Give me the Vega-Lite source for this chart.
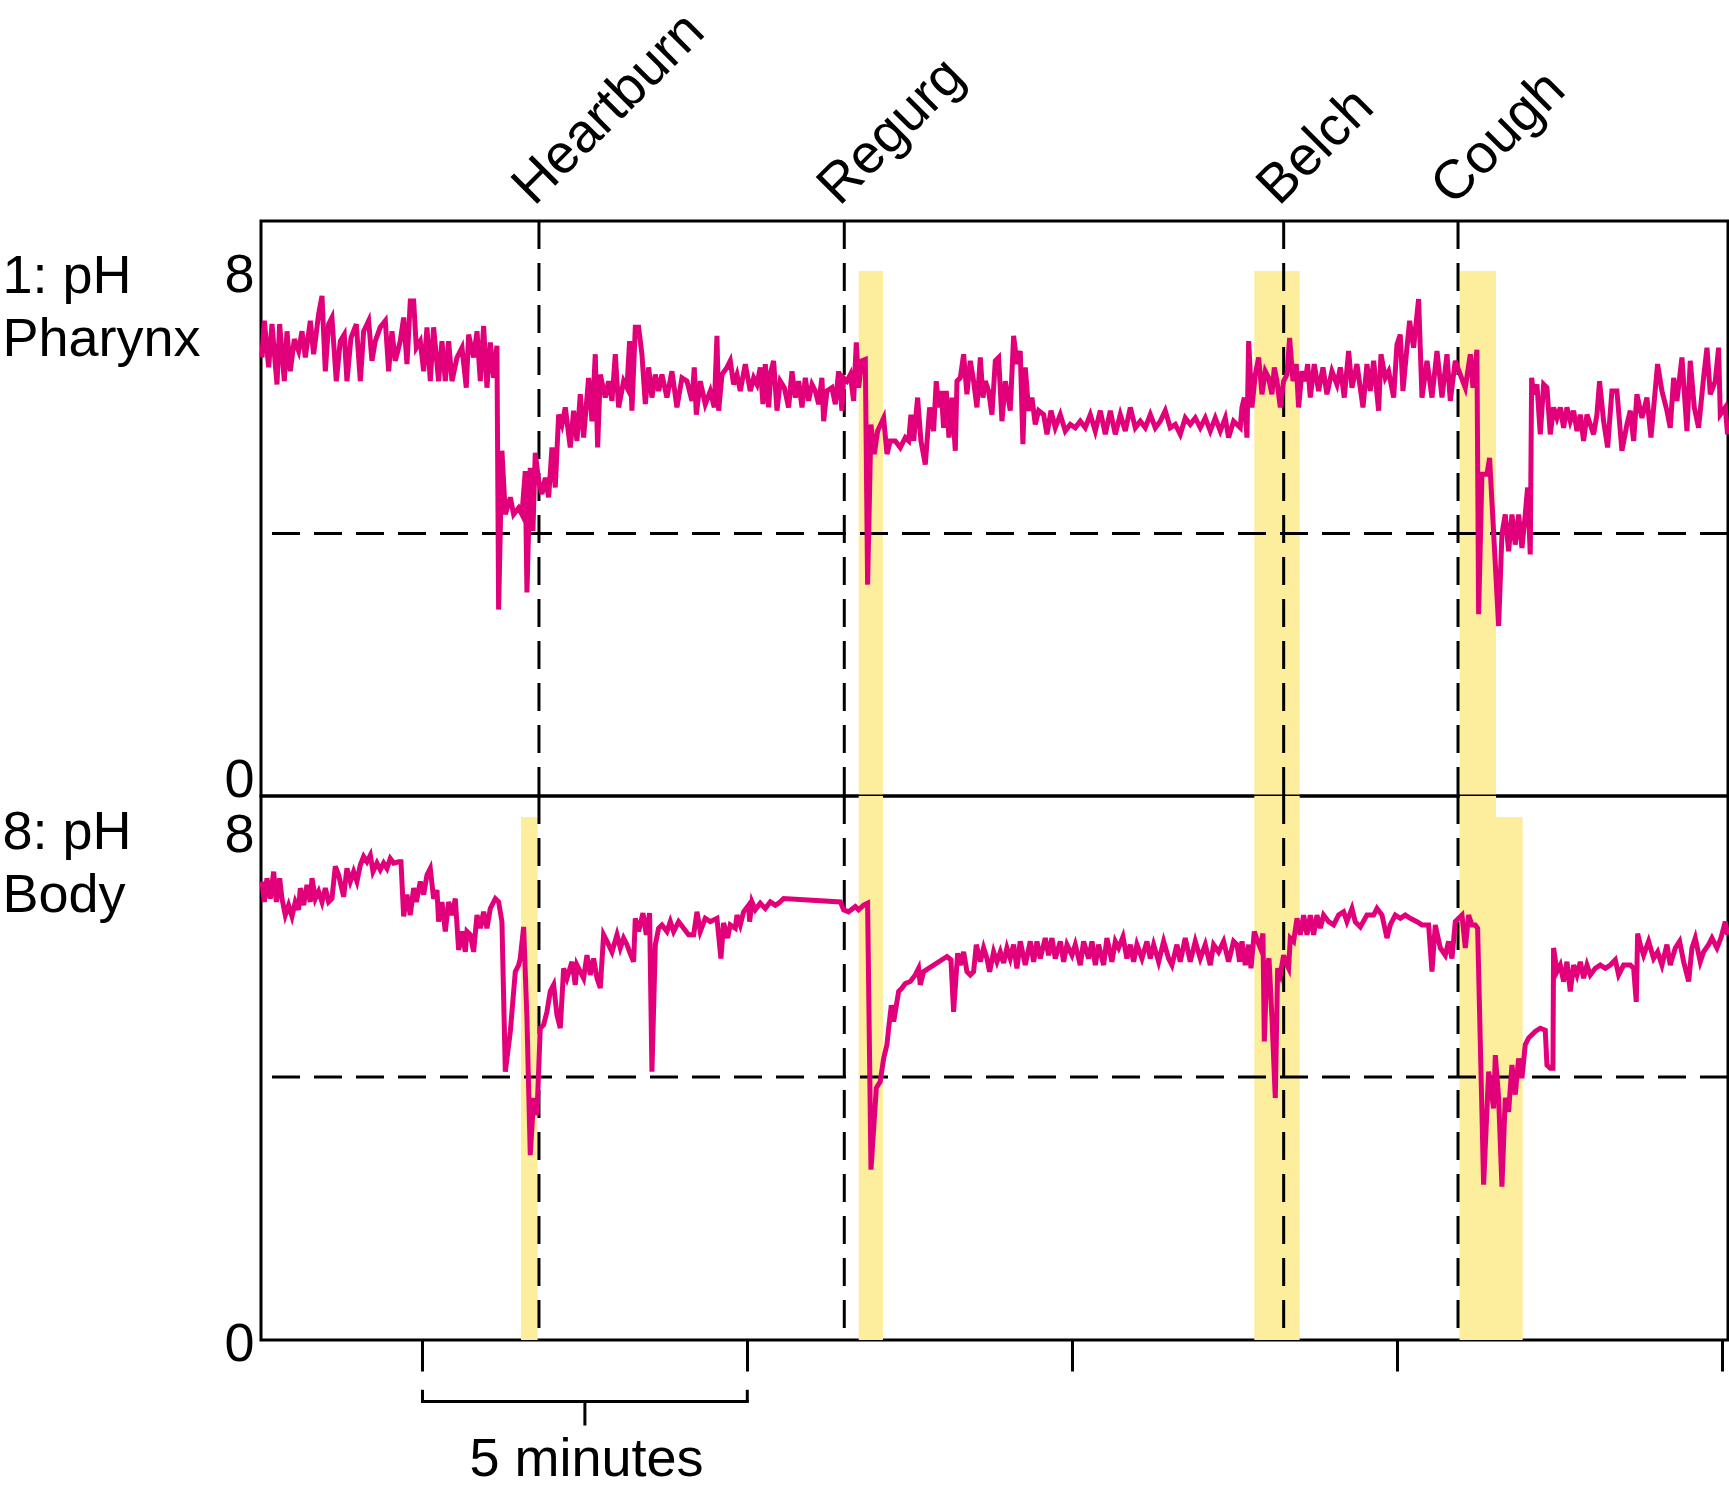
{
"$schema": "https://vega.github.io/schema/vega-lite/v6.json",
"padding": {"left": 0, "top": 1, "right": 0, "bottom": 0},
"background": "white",
"config": {
  "font": "Liberation Sans",
  "view": {"stroke": "black", "strokeWidth": 3},
  "axis": {"labelFontSize": 54, "titleFontSize": 54, "labelColor": "black", "titleColor": "black", "titleFontWeight": "normal", "grid": false, "domain": false}
},
"datasets": {
  "events": [{"event": "Heartburn", "t": 6.793}, {"event": "Regurg", "t": 11.493}, {"event": "Belch", "t": 18.257}, {"event": "Cough", "t": 20.941}],
  "bandsFull": [{"event": "Regurg", "t1": 11.715, "t2": 12.089}, {"event": "Belch", "t1": 17.805, "t2": 18.504}, {"event": "Cough", "t1": 20.967, "t2": 21.526}],
  "bandsPart": [{"event": "Heartburn", "t1": 6.516, "t2": 6.773}, {"event": "Cough", "t1": 20.967, "t2": 21.937}],
  "pharynx": [
{"t":2.529,"pH":6.68},{"t":2.565,"pH":7.24},{"t":2.632,"pH":6.53},{"t":2.683,"pH":7.19},{"t":2.760,"pH":6.27},{"t":2.801,"pH":7.19},{"t":2.873,"pH":6.32},{"t":2.914,"pH":7.08},{"t":2.965,"pH":6.47},{"t":3.027,"pH":6.96},{"t":3.093,"pH":6.78},{"t":3.145,"pH":7.08},{"t":3.196,"pH":6.68},{"t":3.273,"pH":7.24},{"t":3.324,"pH":6.73},{"t":3.401,"pH":7.34},{"t":3.453,"pH":7.62},{"t":3.504,"pH":6.47},{"t":3.555,"pH":7.19},{"t":3.606,"pH":7.29},{"t":3.673,"pH":6.32},{"t":3.735,"pH":6.93},{"t":3.796,"pH":7.03},{"t":3.837,"pH":6.32},{"t":3.899,"pH":6.98},{"t":3.981,"pH":7.19},{"t":4.043,"pH":6.32},{"t":4.094,"pH":7.08},{"t":4.171,"pH":7.24},{"t":4.222,"pH":6.63},{"t":4.273,"pH":6.93},{"t":4.350,"pH":7.14},{"t":4.428,"pH":7.24},{"t":4.479,"pH":6.47},{"t":4.530,"pH":7.08},{"t":4.581,"pH":6.63},{"t":4.658,"pH":6.93},{"t":4.710,"pH":7.29},{"t":4.761,"pH":6.58},{"t":4.812,"pH":7.54},{"t":4.864,"pH":7.54},{"t":4.905,"pH":6.83},{"t":4.966,"pH":6.93},{"t":5.018,"pH":6.47},{"t":5.069,"pH":7.14},{"t":5.120,"pH":6.32},{"t":5.171,"pH":7.14},{"t":5.248,"pH":6.32},{"t":5.300,"pH":6.93},{"t":5.351,"pH":6.32},{"t":5.402,"pH":6.93},{"t":5.454,"pH":6.32},{"t":5.531,"pH":6.68},{"t":5.608,"pH":6.83},{"t":5.674,"pH":6.22},{"t":5.710,"pH":7.03},{"t":5.787,"pH":6.68},{"t":5.839,"pH":7.08},{"t":5.890,"pH":6.32},{"t":5.941,"pH":7.16},{"t":5.992,"pH":6.22},{"t":6.044,"pH":6.91},{"t":6.095,"pH":6.37},{"t":6.146,"pH":6.86},{"t":6.172,"pH":2.84},{"t":6.223,"pH":5.26},{"t":6.275,"pH":4.29},{"t":6.352,"pH":4.55},{"t":6.403,"pH":4.29},{"t":6.480,"pH":4.39},{"t":6.531,"pH":4.29},{"t":6.582,"pH":4.95},{"t":6.608,"pH":3.10},{"t":6.659,"pH":5.00},{"t":6.700,"pH":4.04},{"t":6.736,"pH":5.23},{"t":6.788,"pH":4.80},{"t":6.839,"pH":4.60},{"t":6.890,"pH":4.85},{"t":6.942,"pH":4.55},{"t":6.993,"pH":5.31},{"t":7.044,"pH":4.70},{"t":7.096,"pH":5.81},{"t":7.147,"pH":5.66},{"t":7.198,"pH":5.92},{"t":7.275,"pH":5.31},{"t":7.326,"pH":5.87},{"t":7.378,"pH":5.41},{"t":7.429,"pH":6.12},{"t":7.480,"pH":5.46},{"t":7.557,"pH":6.37},{"t":7.609,"pH":5.71},{"t":7.660,"pH":6.73},{"t":7.696,"pH":5.31},{"t":7.737,"pH":6.42},{"t":7.814,"pH":6.07},{"t":7.865,"pH":6.32},{"t":7.917,"pH":6.02},{"t":7.968,"pH":6.73},{"t":8.019,"pH":5.92},{"t":8.096,"pH":6.32},{"t":8.148,"pH":6.22},{"t":8.188,"pH":6.93},{"t":8.224,"pH":5.87},{"t":8.276,"pH":7.14},{"t":8.327,"pH":7.14},{"t":8.378,"pH":6.73},{"t":8.430,"pH":5.97},{"t":8.481,"pH":6.53},{"t":8.532,"pH":6.07},{"t":8.584,"pH":6.42},{"t":8.635,"pH":6.17},{"t":8.686,"pH":6.42},{"t":8.763,"pH":6.07},{"t":8.840,"pH":6.47},{"t":8.917,"pH":5.92},{"t":8.994,"pH":6.37},{"t":9.071,"pH":6.32},{"t":9.148,"pH":6.02},{"t":9.184,"pH":6.53},{"t":9.215,"pH":5.81},{"t":9.276,"pH":6.32},{"t":9.353,"pH":5.97},{"t":9.430,"pH":6.17},{"t":9.492,"pH":5.92},{"t":9.533,"pH":7.01},{"t":9.559,"pH":5.87},{"t":9.610,"pH":6.42},{"t":9.687,"pH":6.53},{"t":9.738,"pH":6.63},{"t":9.789,"pH":6.27},{"t":9.841,"pH":6.42},{"t":9.892,"pH":6.17},{"t":9.969,"pH":6.58},
{"t":10.046,"pH":6.17},{"t":10.098,"pH":6.37},{"t":10.149,"pH":6.27},{"t":10.200,"pH":6.53},{"t":10.241,"pH":5.97},{"t":10.277,"pH":6.58},{"t":10.329,"pH":5.92},{"t":10.364,"pH":6.47},{"t":10.405,"pH":6.63},{"t":10.457,"pH":5.87},{"t":10.508,"pH":6.32},{"t":10.570,"pH":6.22},{"t":10.636,"pH":5.92},{"t":10.688,"pH":6.47},{"t":10.739,"pH":6.07},{"t":10.790,"pH":6.32},{"t":10.842,"pH":5.92},{"t":10.893,"pH":6.37},{"t":10.944,"pH":6.02},{"t":10.996,"pH":6.27},{"t":11.047,"pH":6.17},{"t":11.098,"pH":5.97},{"t":11.149,"pH":6.37},{"t":11.175,"pH":5.71},{"t":11.226,"pH":6.17},{"t":11.303,"pH":6.22},{"t":11.355,"pH":5.97},{"t":11.406,"pH":6.47},{"t":11.457,"pH":5.87},{"t":11.483,"pH":6.37},{"t":11.534,"pH":6.32},{"t":11.586,"pH":6.42},{"t":11.637,"pH":6.02},{"t":11.678,"pH":6.91},{"t":11.714,"pH":6.22},{"t":11.765,"pH":6.63},{"t":11.817,"pH":6.65},{"t":11.852,"pH":3.22},{"t":11.904,"pH":5.66},{"t":11.955,"pH":5.21},{"t":12.006,"pH":5.56},{"t":12.099,"pH":5.76},{"t":12.150,"pH":5.21},{"t":12.201,"pH":5.41},{"t":12.278,"pH":5.41},{"t":12.355,"pH":5.31},{"t":12.432,"pH":5.46},{"t":12.484,"pH":5.41},{"t":12.519,"pH":5.81},{"t":12.561,"pH":5.41},{"t":12.622,"pH":6.07},{"t":12.673,"pH":5.41},{"t":12.740,"pH":5.05},{"t":12.807,"pH":5.92},{"t":12.868,"pH":5.56},{"t":12.909,"pH":6.32},{"t":12.945,"pH":5.92},{"t":12.986,"pH":6.17},{"t":13.022,"pH":5.61},{"t":13.063,"pH":6.17},{"t":13.104,"pH":5.46},{"t":13.151,"pH":6.07},{"t":13.202,"pH":5.26},{"t":13.228,"pH":6.32},{"t":13.279,"pH":6.37},{"t":13.330,"pH":6.73},{"t":13.381,"pH":6.12},{"t":13.433,"pH":6.63},{"t":13.484,"pH":6.32},{"t":13.535,"pH":5.92},{"t":13.587,"pH":6.68},{"t":13.628,"pH":6.07},{"t":13.664,"pH":6.32},{"t":13.715,"pH":6.17},{"t":13.766,"pH":5.81},{"t":13.818,"pH":6.63},{"t":13.869,"pH":6.68},{"t":13.920,"pH":5.71},{"t":13.972,"pH":6.32},{"t":14.048,"pH":5.87},{"t":14.100,"pH":7.01},{"t":14.151,"pH":6.58},{"t":14.202,"pH":6.78},{"t":14.243,"pH":5.36},{"t":14.279,"pH":6.53},{"t":14.331,"pH":5.87},{"t":14.382,"pH":6.07},{"t":14.433,"pH":5.66},{"t":14.485,"pH":5.87},{"t":14.562,"pH":5.81},{"t":14.613,"pH":5.51},{"t":14.675,"pH":5.87},{"t":14.741,"pH":5.61},{"t":14.818,"pH":5.81},{"t":14.895,"pH":5.56},{"t":14.972,"pH":5.66},{"t":15.049,"pH":5.61},{"t":15.126,"pH":5.71},{"t":15.203,"pH":5.61},{"t":15.280,"pH":5.81},{"t":15.357,"pH":5.56},{"t":15.434,"pH":5.87},{"t":15.511,"pH":5.51},{"t":15.588,"pH":5.87},{"t":15.665,"pH":5.51},{"t":15.742,"pH":5.81},{"t":15.819,"pH":5.56},{"t":15.896,"pH":5.92},{"t":15.973,"pH":5.61},{"t":16.050,"pH":5.71},{"t":16.127,"pH":5.61},{"t":16.204,"pH":5.81},{"t":16.281,"pH":5.61},{"t":16.357,"pH":5.71},{"t":16.434,"pH":5.87},{"t":16.511,"pH":5.61},{"t":16.588,"pH":5.66},{"t":16.665,"pH":5.51},{"t":16.742,"pH":5.76},{"t":16.819,"pH":5.66},{"t":16.896,"pH":5.76},{"t":16.973,"pH":5.61},{"t":17.050,"pH":5.76},{"t":17.127,"pH":5.56},{"t":17.204,"pH":5.76},{"t":17.281,"pH":5.56},{"t":17.358,"pH":5.76},{"t":17.409,"pH":5.46},{"t":17.486,"pH":5.71},
{"t":17.538,"pH":5.66},{"t":17.589,"pH":5.61},{"t":17.615,"pH":5.92},{"t":17.651,"pH":6.07},{"t":17.692,"pH":5.46},{"t":17.718,"pH":6.93},{"t":17.769,"pH":5.92},{"t":17.820,"pH":6.42},{"t":17.872,"pH":6.68},{"t":17.923,"pH":6.12},{"t":17.974,"pH":6.47},{"t":18.025,"pH":6.37},{"t":18.077,"pH":6.12},{"t":18.113,"pH":6.53},{"t":18.154,"pH":6.32},{"t":18.205,"pH":5.92},{"t":18.256,"pH":6.32},{"t":18.308,"pH":6.42},{"t":18.349,"pH":6.98},{"t":18.400,"pH":6.32},{"t":18.451,"pH":6.58},{"t":18.487,"pH":5.92},{"t":18.539,"pH":6.47},{"t":18.590,"pH":6.32},{"t":18.626,"pH":6.58},{"t":18.667,"pH":6.07},{"t":18.728,"pH":6.58},{"t":18.795,"pH":6.17},{"t":18.862,"pH":6.53},{"t":18.923,"pH":6.12},{"t":19.000,"pH":6.47},{"t":19.077,"pH":6.27},{"t":19.129,"pH":6.53},{"t":19.190,"pH":6.07},{"t":19.257,"pH":6.78},{"t":19.308,"pH":6.22},{"t":19.385,"pH":6.58},{"t":19.478,"pH":5.92},{"t":19.539,"pH":6.58},{"t":19.590,"pH":6.17},{"t":19.642,"pH":6.63},{"t":19.719,"pH":5.87},{"t":19.755,"pH":6.73},{"t":19.821,"pH":6.37},{"t":19.873,"pH":6.47},{"t":19.950,"pH":6.07},{"t":20.001,"pH":6.88},{"t":20.052,"pH":7.03},{"t":20.093,"pH":6.17},{"t":20.145,"pH":6.73},{"t":20.196,"pH":7.24},{"t":20.257,"pH":6.83},{"t":20.334,"pH":7.57},{"t":20.386,"pH":6.07},{"t":20.463,"pH":6.63},{"t":20.540,"pH":6.07},{"t":20.617,"pH":6.78},{"t":20.694,"pH":6.07},{"t":20.771,"pH":6.73},{"t":20.822,"pH":6.02},{"t":20.899,"pH":6.63},{"t":20.976,"pH":6.42},{"t":21.053,"pH":6.22},{"t":21.130,"pH":6.73},{"t":21.171,"pH":6.22},{"t":21.232,"pH":6.80},{"t":21.258,"pH":2.77},{"t":21.309,"pH":4.90},{"t":21.386,"pH":4.90},{"t":21.427,"pH":5.15},{"t":21.566,"pH":2.59},{"t":21.617,"pH":3.99},{"t":21.668,"pH":4.29},{"t":21.720,"pH":3.73},{"t":21.771,"pH":4.29},{"t":21.822,"pH":3.83},{"t":21.874,"pH":4.29},{"t":21.925,"pH":3.78},{"t":21.976,"pH":4.29},{"t":22.012,"pH":4.70},{"t":22.053,"pH":3.68},{"t":22.074,"pH":6.37},{"t":22.105,"pH":6.12},{"t":22.156,"pH":6.27},{"t":22.207,"pH":5.51},{"t":22.259,"pH":6.27},{"t":22.310,"pH":6.22},{"t":22.361,"pH":5.51},{"t":22.412,"pH":5.92},{"t":22.464,"pH":5.76},{"t":22.515,"pH":5.92},{"t":22.566,"pH":5.61},{"t":22.618,"pH":5.92},{"t":22.669,"pH":5.71},{"t":22.720,"pH":5.87},{"t":22.772,"pH":5.56},{"t":22.823,"pH":5.81},{"t":22.874,"pH":5.41},{"t":22.926,"pH":5.81},{"t":22.977,"pH":5.66},{"t":23.028,"pH":5.51},{"t":23.079,"pH":5.81},{"t":23.120,"pH":6.32},{"t":23.182,"pH":5.71},{"t":23.244,"pH":5.31},{"t":23.310,"pH":6.17},{"t":23.387,"pH":6.17},{"t":23.464,"pH":5.26},{"t":23.541,"pH":5.66},{"t":23.593,"pH":5.87},{"t":23.644,"pH":5.41},{"t":23.695,"pH":6.12},{"t":23.772,"pH":5.76},{"t":23.849,"pH":6.07},{"t":23.911,"pH":5.46},{"t":24.013,"pH":6.58},{"t":24.080,"pH":6.17},{"t":24.157,"pH":5.87},{"t":24.208,"pH":5.61},{"t":24.260,"pH":6.37},{"t":24.311,"pH":6.02},{"t":24.388,"pH":6.68},{"t":24.465,"pH":5.56},{"t":24.516,"pH":6.63},{"t":24.578,"pH":5.92},{"t":24.644,"pH":5.61},{"t":24.721,"pH":6.37},{"t":24.773,"pH":6.83},{"t":24.824,"pH":6.12},{"t":24.901,"pH":6.32},{"t":24.952,"pH":6.83},{"t":24.978,"pH":5.81},{"t":25.055,"pH":5.92},{"t":25.09,"pH":5.51}
  ],
  "body": [
{"t":2.529,"pH":6.97},{"t":2.565,"pH":6.66},{"t":2.606,"pH":7.02},{"t":2.657,"pH":6.71},{"t":2.709,"pH":7.12},{"t":2.750,"pH":6.66},{"t":2.801,"pH":7.02},{"t":2.837,"pH":6.71},{"t":2.888,"pH":6.46},{"t":2.939,"pH":6.61},{"t":2.991,"pH":6.44},{"t":3.042,"pH":6.66},{"t":3.093,"pH":6.54},{"t":3.119,"pH":6.87},{"t":3.170,"pH":6.61},{"t":3.222,"pH":6.92},{"t":3.273,"pH":6.66},{"t":3.299,"pH":7.02},{"t":3.350,"pH":6.71},{"t":3.401,"pH":6.82},{"t":3.453,"pH":6.66},{"t":3.504,"pH":6.87},{"t":3.555,"pH":6.66},{"t":3.606,"pH":6.71},{"t":3.658,"pH":7.20},{"t":3.709,"pH":7.07},{"t":3.786,"pH":6.74},{"t":3.837,"pH":7.17},{"t":3.889,"pH":6.97},{"t":3.940,"pH":7.12},{"t":3.991,"pH":6.97},{"t":4.043,"pH":7.22},{"t":4.094,"pH":7.35},{"t":4.145,"pH":7.27},{"t":4.197,"pH":7.37},{"t":4.238,"pH":7.12},{"t":4.299,"pH":7.25},{"t":4.350,"pH":7.15},{"t":4.402,"pH":7.25},{"t":4.453,"pH":7.17},{"t":4.504,"pH":7.32},{"t":4.556,"pH":7.25},{"t":4.633,"pH":7.27},{"t":4.669,"pH":7.27},{"t":4.710,"pH":6.44},{"t":4.761,"pH":6.77},{"t":4.812,"pH":6.46},{"t":4.864,"pH":6.87},{"t":4.905,"pH":6.66},{"t":4.966,"pH":6.97},{"t":5.018,"pH":6.77},{"t":5.069,"pH":7.07},{"t":5.120,"pH":7.17},{"t":5.171,"pH":6.71},{"t":5.223,"pH":6.84},{"t":5.248,"pH":6.36},{"t":5.300,"pH":6.66},{"t":5.351,"pH":6.21},{"t":5.402,"pH":6.66},{"t":5.454,"pH":6.46},{"t":5.505,"pH":6.71},{"t":5.556,"pH":5.93},{"t":5.608,"pH":6.21},{"t":5.659,"pH":5.90},{"t":5.685,"pH":6.21},{"t":5.736,"pH":6.16},{"t":5.787,"pH":5.90},{"t":5.839,"pH":6.46},{"t":5.890,"pH":6.26},{"t":5.941,"pH":6.51},{"t":5.992,"pH":6.26},{"t":6.044,"pH":6.56},{"t":6.121,"pH":6.71},{"t":6.172,"pH":6.66},{"t":6.223,"pH":6.36},{"t":6.275,"pH":4.08},{"t":6.352,"pH":4.69},{"t":6.429,"pH":5.60},{"t":6.480,"pH":5.70},{"t":6.505,"pH":5.80},{"t":6.557,"pH":6.28},{"t":6.608,"pH":4.89},{"t":6.659,"pH":2.81},{"t":6.711,"pH":3.68},{"t":6.762,"pH":3.42},{"t":6.813,"pH":4.74},{"t":6.864,"pH":4.79},{"t":6.916,"pH":4.99},{"t":6.967,"pH":5.30},{"t":7.019,"pH":5.40},{"t":7.070,"pH":4.94},{"t":7.121,"pH":4.74},{"t":7.173,"pH":5.65},{"t":7.224,"pH":5.50},{"t":7.301,"pH":5.75},{"t":7.352,"pH":5.40},{"t":7.378,"pH":5.70},{"t":7.429,"pH":5.60},{"t":7.480,"pH":5.50},{"t":7.532,"pH":5.85},{"t":7.583,"pH":5.55},{"t":7.634,"pH":5.80},{"t":7.686,"pH":5.50},{"t":7.737,"pH":5.35},{"t":7.788,"pH":6.16},{"t":7.840,"pH":6.06},{"t":7.917,"pH":5.90},{"t":7.994,"pH":6.16},{"t":8.045,"pH":5.96},{"t":8.096,"pH":6.11},{"t":8.148,"pH":6.01},{"t":8.188,"pH":5.90},{"t":8.250,"pH":5.75},{"t":8.276,"pH":6.41},{"t":8.327,"pH":6.21},{"t":8.394,"pH":6.49},{"t":8.445,"pH":6.16},{"t":8.496,"pH":6.49},{"t":8.532,"pH":4.08},{"t":8.584,"pH":6.01},{"t":8.635,"pH":6.26},{"t":8.686,"pH":6.31},{"t":8.763,"pH":6.21},{"t":8.815,"pH":6.36},{"t":8.866,"pH":6.21},{"t":8.943,"pH":6.36},{"t":9.020,"pH":6.26},{"t":9.097,"pH":6.16},{"t":9.174,"pH":6.16},{"t":9.225,"pH":6.51},{"t":9.276,"pH":6.21},{"t":9.353,"pH":6.41},{"t":9.430,"pH":6.36},{"t":9.533,"pH":6.41},{"t":9.594,"pH":5.80},{"t":9.635,"pH":6.34},{"t":9.697,"pH":6.11},{"t":9.738,"pH":6.31},{"t":9.815,"pH":6.26},{"t":9.841,"pH":6.46},{"t":9.892,"pH":6.31},{"t":9.943,"pH":6.51},{"t":10.020,"pH":6.61},
{"t":10.036,"pH":6.36},{"t":10.072,"pH":6.66},{"t":10.123,"pH":6.54},{"t":10.200,"pH":6.64},{"t":10.277,"pH":6.56},{"t":10.354,"pH":6.66},{"t":10.431,"pH":6.61},{"t":10.482,"pH":6.64},{"t":10.559,"pH":6.71},{"t":11.432,"pH":6.66},{"t":11.483,"pH":6.54},{"t":11.560,"pH":6.51},{"t":11.663,"pH":6.59},{"t":11.714,"pH":6.54},{"t":11.791,"pH":6.61},{"t":11.852,"pH":6.64},{"t":11.904,"pH":2.59},{"t":11.986,"pH":3.83},{"t":12.047,"pH":3.93},{"t":12.099,"pH":4.28},{"t":12.150,"pH":4.49},{"t":12.176,"pH":4.74},{"t":12.217,"pH":5.09},{"t":12.253,"pH":4.84},{"t":12.330,"pH":5.30},{"t":12.381,"pH":5.35},{"t":12.432,"pH":5.42},{"t":12.509,"pH":5.45},{"t":12.586,"pH":5.55},{"t":12.637,"pH":5.65},{"t":12.663,"pH":5.40},{"t":12.714,"pH":5.60},{"t":13.074,"pH":5.83},{"t":13.135,"pH":5.78},{"t":13.176,"pH":4.99},{"t":13.238,"pH":5.88},{"t":13.279,"pH":5.70},{"t":13.330,"pH":5.90},{"t":13.381,"pH":5.60},{"t":13.433,"pH":5.55},{"t":13.484,"pH":5.60},{"t":13.525,"pH":6.01},{"t":13.587,"pH":5.75},{"t":13.638,"pH":5.96},{"t":13.689,"pH":5.80},{"t":13.730,"pH":5.60},{"t":13.792,"pH":5.90},{"t":13.843,"pH":5.75},{"t":13.895,"pH":5.90},{"t":13.946,"pH":5.73},{"t":13.997,"pH":5.96},{"t":14.048,"pH":5.80},{"t":14.100,"pH":6.01},{"t":14.151,"pH":5.65},{"t":14.202,"pH":6.06},{"t":14.279,"pH":5.70},{"t":14.356,"pH":6.06},{"t":14.408,"pH":5.75},{"t":14.459,"pH":6.06},{"t":14.510,"pH":5.80},{"t":14.587,"pH":6.11},{"t":14.639,"pH":5.85},{"t":14.690,"pH":6.11},{"t":14.741,"pH":5.80},{"t":14.818,"pH":6.06},{"t":14.870,"pH":5.75},{"t":14.921,"pH":6.01},{"t":14.998,"pH":5.85},{"t":15.049,"pH":6.01},{"t":15.126,"pH":5.70},{"t":15.177,"pH":6.06},{"t":15.254,"pH":5.80},{"t":15.306,"pH":6.06},{"t":15.357,"pH":5.70},{"t":15.408,"pH":6.01},{"t":15.485,"pH":5.70},{"t":15.536,"pH":6.11},{"t":15.613,"pH":5.75},{"t":15.665,"pH":6.06},{"t":15.716,"pH":5.96},{"t":15.783,"pH":6.13},{"t":15.844,"pH":5.80},{"t":15.896,"pH":6.01},{"t":15.947,"pH":5.75},{"t":15.998,"pH":6.01},{"t":16.075,"pH":5.80},{"t":16.152,"pH":6.06},{"t":16.204,"pH":5.80},{"t":16.255,"pH":6.01},{"t":16.332,"pH":5.75},{"t":16.409,"pH":6.06},{"t":16.486,"pH":5.80},{"t":16.537,"pH":5.70},{"t":16.614,"pH":6.01},{"t":16.665,"pH":5.75},{"t":16.742,"pH":6.11},{"t":16.819,"pH":5.75},{"t":16.896,"pH":6.06},{"t":16.973,"pH":5.80},{"t":17.050,"pH":6.01},{"t":17.127,"pH":5.70},{"t":17.178,"pH":6.01},{"t":17.255,"pH":5.90},{"t":17.332,"pH":6.06},{"t":17.409,"pH":5.75},{"t":17.486,"pH":6.06},
{"t":17.538,"pH":6.01},{"t":17.579,"pH":5.75},{"t":17.615,"pH":6.06},{"t":17.666,"pH":5.70},{"t":17.718,"pH":6.01},{"t":17.754,"pH":5.65},{"t":17.805,"pH":6.21},{"t":17.856,"pH":6.06},{"t":17.897,"pH":5.96},{"t":17.938,"pH":6.18},{"t":17.959,"pH":4.54},{"t":18.000,"pH":5.70},{"t":18.031,"pH":5.80},{"t":18.077,"pH":4.89},{"t":18.128,"pH":3.68},{"t":18.164,"pH":5.65},{"t":18.205,"pH":5.55},{"t":18.256,"pH":5.85},{"t":18.308,"pH":5.70},{"t":18.333,"pH":5.65},{"t":18.359,"pH":6.11},{"t":18.410,"pH":6.06},{"t":18.462,"pH":6.41},{"t":18.513,"pH":6.16},{"t":18.564,"pH":6.46},{"t":18.616,"pH":6.16},{"t":18.667,"pH":6.46},{"t":18.718,"pH":6.16},{"t":18.769,"pH":6.46},{"t":18.821,"pH":6.26},{"t":18.872,"pH":6.46},{"t":18.949,"pH":6.36},{"t":19.026,"pH":6.31},{"t":19.103,"pH":6.46},{"t":19.180,"pH":6.51},{"t":19.231,"pH":6.36},{"t":19.308,"pH":6.56},{"t":19.359,"pH":6.36},{"t":19.437,"pH":6.28},{"t":19.539,"pH":6.46},{"t":19.642,"pH":6.46},{"t":19.693,"pH":6.56},{"t":19.770,"pH":6.46},{"t":19.847,"pH":6.11},{"t":19.898,"pH":6.31},{"t":19.975,"pH":6.46},{"t":20.052,"pH":6.41},{"t":20.129,"pH":6.46},{"t":20.206,"pH":6.41},{"t":20.309,"pH":6.36},{"t":20.386,"pH":6.31},{"t":20.488,"pH":6.31},{"t":20.540,"pH":5.60},{"t":20.591,"pH":6.31},{"t":20.668,"pH":5.96},{"t":20.745,"pH":5.85},{"t":20.796,"pH":6.06},{"t":20.848,"pH":5.80},{"t":20.899,"pH":6.36},{"t":20.950,"pH":6.41},{"t":21.002,"pH":6.46},{"t":21.053,"pH":5.96},{"t":21.104,"pH":6.46},{"t":21.155,"pH":6.31},{"t":21.207,"pH":6.31},{"t":21.243,"pH":6.26},{"t":21.335,"pH":2.36},{"t":21.412,"pH":4.08},{"t":21.489,"pH":3.52},{"t":21.515,"pH":4.33},{"t":21.566,"pH":3.68},{"t":21.617,"pH":2.33},{"t":21.668,"pH":3.68},{"t":21.720,"pH":3.47},{"t":21.771,"pH":4.18},{"t":21.822,"pH":3.73},{"t":21.874,"pH":4.28},{"t":21.925,"pH":3.98},{"t":21.976,"pH":4.49},{"t":22.028,"pH":4.59},{"t":22.079,"pH":4.64},{"t":22.130,"pH":4.69},{"t":22.207,"pH":4.74},{"t":22.284,"pH":4.71},{"t":22.310,"pH":4.18},{"t":22.361,"pH":4.13},{"t":22.402,"pH":4.13},{"t":22.412,"pH":5.96},{"t":22.464,"pH":5.60},{"t":22.515,"pH":5.70},{"t":22.566,"pH":5.45},{"t":22.618,"pH":5.75},{"t":22.669,"pH":5.30},{"t":22.720,"pH":5.70},{"t":22.772,"pH":5.55},{"t":22.823,"pH":5.75},{"t":22.874,"pH":5.50},{"t":22.926,"pH":5.70},{"t":22.977,"pH":5.55},{"t":23.054,"pH":5.65},{"t":23.131,"pH":5.70},{"t":23.208,"pH":5.65},{"t":23.285,"pH":5.70},{"t":23.362,"pH":5.78},{"t":23.413,"pH":5.55},{"t":23.490,"pH":5.70},{"t":23.593,"pH":5.70},{"t":23.644,"pH":5.65},{"t":23.685,"pH":5.14},{"t":23.706,"pH":6.18},{"t":23.747,"pH":6.01},{"t":23.798,"pH":5.85},{"t":23.875,"pH":6.06},{"t":23.952,"pH":5.80},{"t":24.014,"pH":5.90},{"t":24.080,"pH":5.70},{"t":24.157,"pH":6.01},{"t":24.208,"pH":5.70},{"t":24.286,"pH":5.96},{"t":24.352,"pH":6.06},{"t":24.414,"pH":5.75},{"t":24.491,"pH":5.45},{"t":24.542,"pH":5.96},{"t":24.593,"pH":6.11},{"t":24.670,"pH":5.75},{"t":24.721,"pH":5.90},{"t":24.798,"pH":6.01},{"t":24.850,"pH":6.11},{"t":24.927,"pH":5.96},{"t":24.988,"pH":6.11},{"t":25.055,"pH":6.36},{"t":25.09,"pH":6.16}
  ]
},
"vconcat": [
 {
  "width": 1467, "height": 575,
  "layer": [
   {"data": {"name": "bandsFull"}, "mark": {"type": "rect", "color": "#FCEE9C"},
    "encoding": {
     "x": {"field": "t1", "type": "quantitative", "scale": {"domain": [2.514, 25.097], "nice": false, "zero": false}, "axis": null},
     "x2": {"field": "t2"},
     "y": {"datum": 8, "type": "quantitative", "scale": {"domain": [0, 8.76], "nice": false}},
     "y2": {"datum": 0}}},
   {"data": {"values": [{}]}, "mark": {"type": "rule", "color": "black", "strokeWidth": 3, "strokeDash": [28, 14]},
    "encoding": {"y": {"datum": 4, "type": "quantitative", "scale": {"domain": [0, 8.76], "nice": false}}}},
   {"data": {"name": "events"}, "mark": {"type": "rule", "color": "black", "strokeWidth": 3, "strokeDash": [28, 14]},
    "encoding": {"x": {"field": "t", "type": "quantitative", "scale": {"domain": [2.514, 25.097], "nice": false, "zero": false}, "axis": null}}},
   {"data": {"name": "pharynx"}, "mark": {"type": "line", "color": "#E2007A", "strokeWidth": 5},
    "encoding": {
     "x": {"field": "t", "type": "quantitative", "scale": {"domain": [2.514, 25.097], "nice": false, "zero": false}, "axis": null},
     "y": {"field": "pH", "type": "quantitative", "scale": {"domain": [0, 8.76], "nice": false},
      "axis": {"values": [0, 8], "format": "d", "ticks": false, "tickSize": 0, "labelPadding": 7, "labelBaseline": "alphabetic", "labelFlush": false, "labelOverlap": false,
       "labelOffset": {"condition": {"test": "datum.value === 8", "value": 21}, "value": 0},
       "title": ["1: pH", "Pharynx"], "titleAngle": 0, "titleAlign": "left", "titleBaseline": "alphabetic", "titleX": -259, "titleY": 71.4, "titleLineHeight": 63}}}},
   {"data": {"name": "events"}, "mark": {"type": "text", "angle": 315, "align": "left", "baseline": "alphabetic", "dx": 6.4, "dy": -13.4, "fontSize": 55, "color": "black"},
    "encoding": {
     "x": {"field": "t", "type": "quantitative", "scale": {"domain": [2.514, 25.097], "nice": false, "zero": false}, "axis": null},
     "y": {"datum": 8.76, "type": "quantitative", "scale": {"domain": [0, 8.76], "nice": false}},
     "text": {"field": "event"}}}
  ]
 },
 {
  "width": 1467, "height": 544,
  "layer": [
   {"data": {"name": "bandsFull"}, "mark": {"type": "rect", "color": "#FCEE9C"},
    "encoding": {
     "x": {"field": "t1", "type": "quantitative", "scale": {"domain": [2.514, 25.097], "nice": false, "zero": false}},
     "x2": {"field": "t2"},
     "y": {"datum": 8.27, "type": "quantitative", "scale": {"domain": [0, 8.27], "nice": false}},
     "y2": {"datum": 0}}},
   {"data": {"name": "bandsPart"}, "mark": {"type": "rect", "color": "#FCEE9C"},
    "encoding": {
     "x": {"field": "t1", "type": "quantitative", "scale": {"domain": [2.514, 25.097], "nice": false, "zero": false}},
     "x2": {"field": "t2"},
     "y": {"datum": 7.95, "type": "quantitative", "scale": {"domain": [0, 8.27], "nice": false}},
     "y2": {"datum": 0}}},
   {"data": {"values": [{}]}, "mark": {"type": "rule", "color": "black", "strokeWidth": 3, "strokeDash": [28, 14]},
    "encoding": {"y": {"datum": 4, "type": "quantitative", "scale": {"domain": [0, 8.27], "nice": false}}}},
   {"data": {"name": "events"}, "mark": {"type": "rule", "color": "black", "strokeWidth": 3, "strokeDash": [28, 14]},
    "encoding": {"x": {"field": "t", "type": "quantitative", "scale": {"domain": [2.514, 25.097], "nice": false, "zero": false}}}},
   {"data": {"name": "body"}, "mark": {"type": "line", "color": "#E2007A", "strokeWidth": 5},
    "encoding": {
     "x": {"field": "t", "type": "quantitative", "scale": {"domain": [2.514, 25.097], "nice": false, "zero": false},
      "axis": {"values": [5, 10, 15, 20, 25], "ticks": true, "tickSize": 31, "tickWidth": 3, "tickColor": "black", "labels": false,
       "title": "5 minutes", "titleX": 325, "titleY": 135.5, "titleAlign": "center", "titleBaseline": "alphabetic"}},
     "y": {"field": "pH", "type": "quantitative", "scale": {"domain": [0, 8.27], "nice": false},
      "axis": {"values": [0, 8], "format": "d", "ticks": false, "tickSize": 0, "labelPadding": 7, "labelBaseline": "alphabetic", "labelFlush": false, "labelOverlap": false,
       "labelOffset": {"condition": {"test": "datum.value === 8", "value": 38}, "value": 20},
       "title": ["8: pH", "Body"], "titleAngle": 0, "titleAlign": "left", "titleBaseline": "alphabetic", "titleX": -259, "titleY": 52.6, "titleLineHeight": 63}}}},
   {"data": {"values": [{"t": 5, "t2": 10}]}, "mark": {"type": "rule", "color": "black", "strokeWidth": 3, "strokeCap": "square"},
    "encoding": {
     "x": {"field": "t", "type": "quantitative", "scale": {"domain": [2.514, 25.097], "nice": false, "zero": false}},
     "x2": {"field": "t2"},
     "y": {"datum": -0.935, "type": "quantitative", "scale": {"domain": [0, 8.27], "nice": false}}}},
   {"data": {"values": [{"t": 5}, {"t": 10}]}, "mark": {"type": "rule", "color": "black", "strokeWidth": 3},
    "encoding": {
     "x": {"field": "t", "type": "quantitative", "scale": {"domain": [2.514, 25.097], "nice": false, "zero": false}},
     "y": {"datum": -0.757, "type": "quantitative", "scale": {"domain": [0, 8.27], "nice": false}},
     "y2": {"datum": -0.935}}},
   {"data": {"values": [{"t": 7.5}]}, "mark": {"type": "rule", "color": "black", "strokeWidth": 3},
    "encoding": {
     "x": {"field": "t", "type": "quantitative", "scale": {"domain": [2.514, 25.097], "nice": false, "zero": false}},
     "y": {"datum": -0.935, "type": "quantitative", "scale": {"domain": [0, 8.27], "nice": false}},
     "y2": {"datum": -1.30}}}
  ]
 }
],
"spacing": 0,
"bounds": "flush"
}
